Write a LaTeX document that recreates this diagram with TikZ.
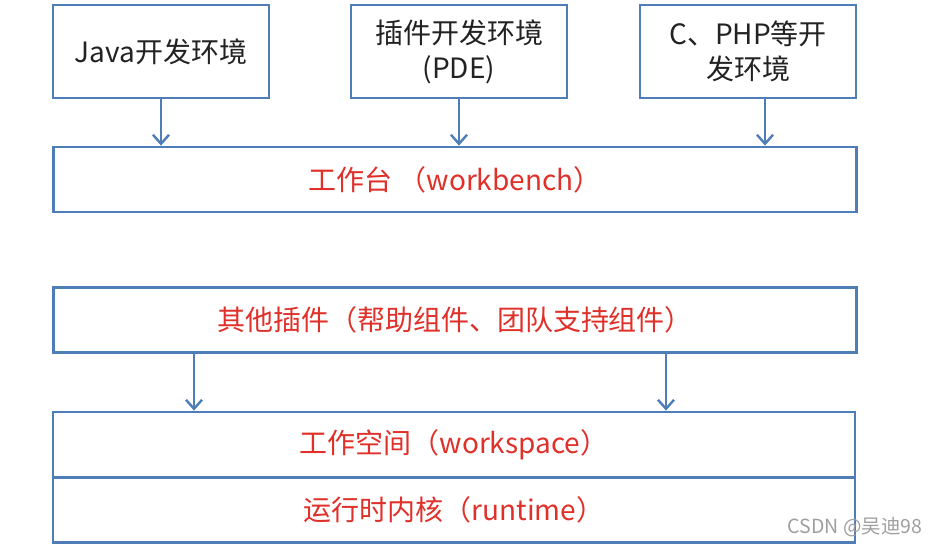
\documentclass[tikz,border=0pt]{standalone}
\usepackage{fontspec}
\setmainfont{Noto Sans CJK SC}
\usepackage{tikz}
\usetikzlibrary{arrows.meta}
\usetikzlibrary{positioning}
\definecolor{boxblue}{HTML}{4F7DB8}
\definecolor{labelred}{HTML}{E0302A}
\definecolor{inkgray}{HTML}{222222}
\tikzset{
  envbox/.style={draw=boxblue, line width=2.8pt, fill=white, inner sep=0pt,
    minimum width=216pt, minimum height=93pt, align=center,
    font=\fontsize{28}{35}\selectfont, text=inkgray},
  layerbox/.style={draw=boxblue, line width=2.8pt, fill=white, inner sep=0pt,
    minimum width=803pt, minimum height=65pt,
    font=\fontsize{28}{32}\selectfont, text=labelred},
  feed/.style={draw=boxblue, line width=2.4pt,
    -{Straight Barb[length=9pt,width=16pt,line width=2.4pt]}},
}

\begin{document}
\begin{tikzpicture}[x=1pt, y=-1pt]
      \useasboundingbox (0, 0) rectangle (938, 548);

      % environments on top
      \node [envbox] (java) at (161, 51.5) {Java开发环境};
      \node [envbox] (pde) at (459, 51.5) {插件开发环境\\(PDE)};
      \node [envbox] (cphp) at (748, 51.5) {C、PHP等开\\发环境};

      \node [layerbox] (bench) at (455, 179.5) {工作台 （workbench）};

      \draw [feed] (java.south) -- (java.south |- bench.north);
      \draw [feed] (pde.south) -- (pde.south |- bench.north);
      \draw [feed] (765, 98) coordinate (cphpout) -- (cphpout |- bench.north);

      % platform layers
      \node [layerbox] (plugins) at (455, 320) {其他插件（帮助组件、团队支持组件）};
      \node [layerbox, minimum width=802pt] (space) at (454, 444.5) {工作空间（workspace）};
      \node [layerbox, minimum width=802pt] (runtime) at (454, 510) {运行时内核（runtime）};

      \coordinate (helpout) at (194, 353);
      \coordinate (teamout) at (666, 353);
      \draw [feed] (helpout) -- (helpout |- space.north);
      \draw [feed] (teamout) -- (teamout |- space.north);

      \node [text=gray!75, font=\fontsize{19.5}{22}\selectfont] (mark) at (855, 527) {CSDN @吴迪98};
    \end{tikzpicture}
\end{document}
